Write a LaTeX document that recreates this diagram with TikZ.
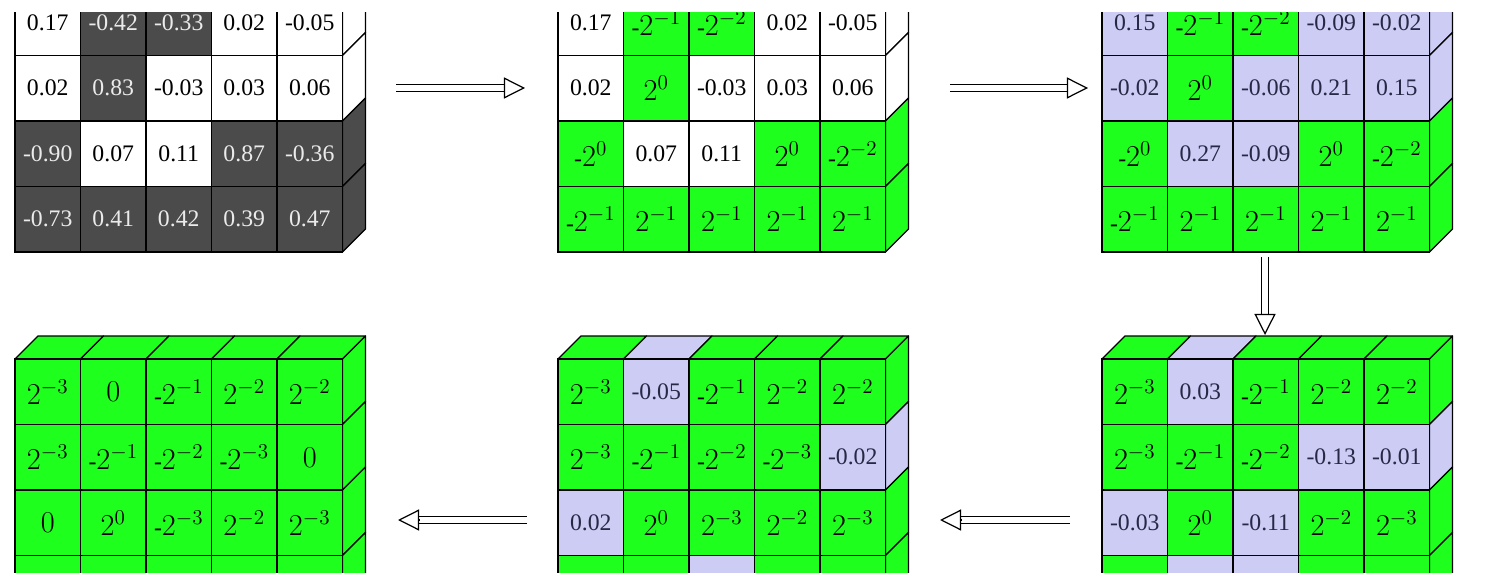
\documentclass[tikz,border=0pt]{standalone}
\usepackage{fontspec}
\setmainfont{Liberation Serif}
\usetikzlibrary{arrows.meta,calc}
\definecolor{cw}{RGB}{255,255,255}
\definecolor{cd}{RGB}{75,75,75}
\definecolor{cg}{RGB}{30,255,30}
\definecolor{cl}{RGB}{204,204,245}
\colorlet{tw}{black}
\colorlet{td}{black!8}
\colorlet{tg}{black}
\definecolor{tl}{RGB}{40,40,70}
\newcommand\pw[1]{{\fontsize{17}{19}\selectfont$2^{#1}$}}
\newcommand\zr{{\fontsize{17}{19}\selectfont$0$}}
\tikzset{
  cell/.style={draw=black,line width=0.7pt,minimum size=1.31cm,inner sep=0pt,font=\fontsize{13.5}{15}\selectfont},
  face/.style={draw=black,line width=0.7pt,line join=round},
  shaft/.style={draw=black,double=white,double distance=3.6pt,line width=0.7pt,shorten >=12pt},
  head/.style={line width=0.7pt,-{Triangle[open,fill=white,length=12pt,width=12pt]}}
}
\newcommand\blk[4]{%
  \foreach \c/\t [count=\n from 0] in {#4}{%
    \pgfmathtruncatemacro\r{div(\n,5)}%
    \pgfmathtruncatemacro\k{mod(\n,5)}%
    \ifnum\r=0
      \filldraw[face,fill=c\c] (#2+\k*65.5,#3) -- ++(23,-23) -- ++(65.5,0) -- ++(-23,23) -- cycle;
    \fi
    \ifnum\k=4
      \filldraw[face,fill=c\c] (#2+327.5,#3+\r*65.5) -- ++(23,-23) -- ++(0,65.5) -- ++(-23,23) -- cycle;
    \fi
    \node[cell,fill=c\c,text=t\c] (#1-\n) at (#2+\k*65.5+32.75,#3+\r*65.5+32.75) {\t};
  }%
}
\begin{document}
\begin{tikzpicture}[x=0.02cm,y=-0.02cm]
\useasboundingbox (0,0) rectangle (1486,587);
\begin{scope}
\clip (0,13) rectangle (1486,572);
\blk{A}{15}{-10}{w/0.17,d/-0.42,d/-0.33,w/0.02,w/-0.05,
 w/0.02,d/0.83,w/-0.03,w/0.03,w/0.06,
 d/-0.90,w/0.07,w/0.11,d/0.87,d/-0.36,
 d/-0.73,d/0.41,d/0.42,d/0.39,d/0.47}
\blk{B}{558}{-10}{w/0.17,g/{-\pw{-1}},g/{-\pw{-2}},w/0.02,w/-0.05,
 w/0.02,g/{\pw{0}},w/-0.03,w/0.03,w/0.06,
 g/{-\pw{0}},w/0.07,w/0.11,g/{\pw{0}},g/{-\pw{-2}},
 g/{-\pw{-1}},g/{\pw{-1}},g/{\pw{-1}},g/{\pw{-1}},g/{\pw{-1}}}
\blk{C}{1102}{-10}{l/0.15,g/{-\pw{-1}},g/{-\pw{-2}},l/-0.09,l/-0.02,
 l/-0.02,g/{\pw{0}},l/-0.06,l/0.21,l/0.15,
 g/{-\pw{0}},l/0.27,l/-0.09,g/{\pw{0}},g/{-\pw{-2}},
 g/{-\pw{-1}},g/{\pw{-1}},g/{\pw{-1}},g/{\pw{-1}},g/{\pw{-1}}}
\blk{D}{1102}{359}{g/{\pw{-3}},l/0.03,g/{-\pw{-1}},g/{\pw{-2}},g/{\pw{-2}},
 g/{\pw{-3}},g/{-\pw{-1}},g/{-\pw{-2}},l/-0.13,l/-0.01,
 l/-0.03,g/{\pw{0}},l/-0.11,g/{\pw{-2}},g/{\pw{-3}},
 g/{},l/{},l/{},g/{},g/{}}
\blk{E}{558}{359}{g/{\pw{-3}},l/-0.05,g/{-\pw{-1}},g/{\pw{-2}},g/{\pw{-2}},
 g/{\pw{-3}},g/{-\pw{-1}},g/{-\pw{-2}},g/{-\pw{-3}},l/-0.02,
 l/0.02,g/{\pw{0}},g/{\pw{-3}},g/{\pw{-2}},g/{\pw{-3}},
 g/{},g/{},l/{},g/{},g/{}}
\blk{F}{15}{359}{g/{\pw{-3}},g/{\zr},g/{-\pw{-1}},g/{\pw{-2}},g/{\pw{-2}},
 g/{\pw{-3}},g/{-\pw{-1}},g/{-\pw{-2}},g/{-\pw{-3}},g/{\zr},
 g/{\zr},g/{\pw{0}},g/{-\pw{-3}},g/{\pw{-2}},g/{\pw{-3}},
 g/{},g/{},g/{},g/{},g/{}}
\end{scope}
\coordinate (p1) at (396,88); \coordinate (q1) at (525,88);
\coordinate (p2) at (950,88); \coordinate (q2) at (1088,88);
\coordinate (p3) at (1265,257); \coordinate (q3) at (1265,335);
\coordinate (p4) at (1070,520); \coordinate (q4) at (940,520);
\coordinate (p5) at (527,520); \coordinate (q5) at (398,520);
\foreach \i in {1,...,5}{
  \draw[shaft] (p\i) -- (q\i);
  \draw[head] ($(q\i)!12pt!(p\i)$) -- (q\i);
}
\end{tikzpicture}
\end{document}
